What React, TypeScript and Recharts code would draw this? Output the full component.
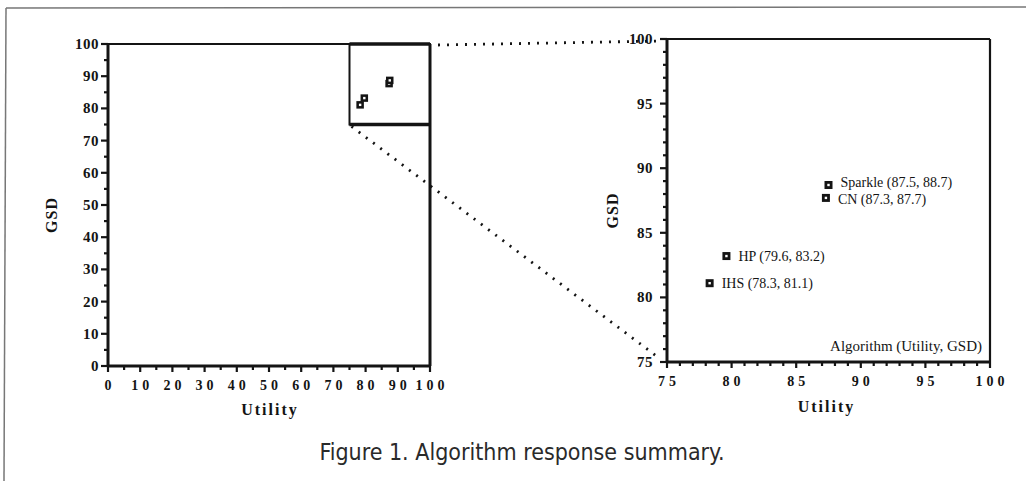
import React from 'react';
import {
  ScatterChart,
  Scatter,
  XAxis,
  YAxis,
  ReferenceLine,
  ReferenceArea,
  LabelList,
} from 'recharts';

// Algorithm results
const algorithms = ['IHS', 'HP', 'CN', 'Sparkle'];
const utility = [78.3, 79.6, 87.3, 87.5];
const gsd = [81.1, 83.2, 87.7, 88.7];

// Axis ticks (every tick gets a mark, the majors get a number)
const fullTicks = [0, 5, 10, 15, 20, 25, 30, 35, 40, 45, 50, 55, 60, 65, 70, 75, 80, 85, 90, 95, 100];
const zoomTicks = [75, 76, 77, 78, 79, 80, 81, 82, 83, 84, 85, 86, 87, 88, 89, 90, 91, 92, 93, 94, 95, 96, 97, 98, 99, 100];
const fullMajorStep = 10;
const zoomMajorStep = 5;
const zoomRange = [75, 100];

const points = algorithms.map((name, i) => ({ name, utility: utility[i], gsd: gsd[i] }));

const INK = '#141414';
const SERIF = '"Liberation Serif", "DejaVu Serif", serif';
const NARROW = '"Liberation Sans Narrow", "DejaVu Sans Condensed", "Liberation Sans", sans-serif';

const makeYTick = (major: number, gap: number) => (props: any) => {
  const { x, y, payload } = props;
  const isMajor = payload.value % major === 0;
  return (
    <g>
      <line x1={x - (isMajor ? 7 : 4)} x2={x} y1={y} y2={y} stroke={INK} strokeWidth={2.2} />
      {isMajor && (
        <text
          x={x - gap}
          y={y}
          textAnchor="end"
          dominantBaseline="central"
          fontFamily={SERIF}
          fontWeight="bold"
          fontSize={15}
          letterSpacing={0.5}
          fill={INK}
        >
          {payload.value}
        </text>
      )}
    </g>
  );
};

const makeXTick = (major: number) => (props: any) => {
  const { x, y, payload } = props;
  const isMajor = payload.value % major === 0;
  return (
    <g>
      <line x1={x} x2={x} y1={y} y2={y + (isMajor ? 6 : 4)} stroke={INK} strokeWidth={2.2} />
      {isMajor && (
        <text
          x={x + 2}
          y={y + 19}
          textAnchor="middle"
          dominantBaseline="central"
          fontFamily={SERIF}
          fontWeight="bold"
          fontSize={14}
          letterSpacing={4}
          fill={INK}
        >
          {payload.value}
        </text>
      )}
    </g>
  );
};

const Marker = (size: number) => (props: any) => {
  const { cx, cy } = props;
  return (
    <g>
      <rect x={cx - size / 2} y={cy - size / 2} width={size} height={size} fill={INK} />
      <rect x={cx - 1.2} y={cy - 1.2} width={2.4} height={2.4} fill="#fff" />
    </g>
  );
};

// the two upper labels sit a hair apart in the original
const labelShift: Record<string, number> = { Sparkle: -2, CN: 2 };

const pointLabel = (props: any) => {
  const { x, y, width, height, index } = props;
  const p = points[index];
  return (
    <text
      x={x + width / 2 + 12}
      y={y + height / 2 + (labelShift[p.name] || 0)}
      dominantBaseline="central"
      fontFamily={SERIF}
      fontSize={14}
      fill={INK}
    >
      {`${p.name} (${p.utility}, ${p.gsd})`}
    </text>
  );
};

// plot boxes on the page, used to hook up the connector dots
const LEFT = { x: 108, y: 44, w: 322, h: 322 };
const RIGHT = { x: 667, y: 39, w: 323, h: 323 };
const lx = (v: number) => LEFT.x + (v / 100) * LEFT.w;
const ly = (v: number) => LEFT.y + LEFT.h - (v / 100) * LEFT.h;

export default function App() {
  return (
    <div
      style={{
        position: 'absolute',
        left: 0,
        top: 0,
        width: 1026,
        height: 481,
        background: '#fff',
        overflow: 'hidden',
      }}
    >
      <div style={{ position: 'absolute', left: 0, top: 0 }}>
        <ScatterChart width={470} height={430} margin={{ top: 44, right: 40, left: 0, bottom: 0 }}>
          <XAxis
            type="number"
            dataKey="utility"
            domain={[0, 100]}
            ticks={fullTicks}
            interval={0}
            height={64}
            tickSize={0}
            tickMargin={0}
            tickLine={false}
            axisLine={{ stroke: INK, strokeWidth: 3 }}
            tick={makeXTick(fullMajorStep)}
          />
          <YAxis
            type="number"
            dataKey="gsd"
            domain={[0, 100]}
            ticks={fullTicks}
            interval={0}
            width={108}
            tickSize={0}
            tickMargin={0}
            tickLine={false}
            axisLine={{ stroke: INK, strokeWidth: 3 }}
            tick={makeYTick(fullMajorStep, 9)}
          />
          <ReferenceLine y={100} stroke={INK} strokeWidth={2.2} />
          <ReferenceLine x={100} stroke={INK} strokeWidth={3} />
          <ReferenceArea
            x1={zoomRange[0]}
            x2={zoomRange[1]}
            y1={zoomRange[0]}
            y2={zoomRange[1]}
            fill="none"
            stroke={INK}
            strokeWidth={2}
            fillOpacity={0}
          />
          <ReferenceLine
            segment={[{ x: zoomRange[0], y: zoomRange[0] }, { x: zoomRange[1], y: zoomRange[0] }]}
            stroke={INK}
            strokeWidth={3.5}
          />
          <ReferenceLine
            segment={[{ x: zoomRange[0], y: zoomRange[1] }, { x: zoomRange[1], y: zoomRange[1] }]}
            stroke={INK}
            strokeWidth={3.5}
          />
          <Scatter data={points} shape={Marker(7.5)} isAnimationActive={false} />
        </ScatterChart>
      </div>

      <div style={{ position: 'absolute', left: 560, top: 0 }}>
        <ScatterChart width={466} height={430} margin={{ top: 39, right: 36, left: 0, bottom: 0 }}>
          <XAxis
            type="number"
            dataKey="utility"
            domain={zoomRange}
            ticks={zoomTicks}
            interval={0}
            height={68}
            tickSize={0}
            tickMargin={0}
            tickLine={false}
            axisLine={{ stroke: INK, strokeWidth: 3 }}
            tick={makeXTick(zoomMajorStep)}
          />
          <YAxis
            type="number"
            dataKey="gsd"
            domain={zoomRange}
            ticks={zoomTicks}
            interval={0}
            width={107}
            tickSize={0}
            tickMargin={0}
            tickLine={false}
            axisLine={{ stroke: INK, strokeWidth: 3 }}
            tick={makeYTick(zoomMajorStep, 14)}
          />
          <ReferenceLine y={100} stroke={INK} strokeWidth={2.2} />
          <ReferenceLine x={100} stroke={INK} strokeWidth={2.2} />
          <Scatter data={points} shape={Marker(8)} isAnimationActive={false}>
            <LabelList dataKey="name" content={pointLabel} />
          </Scatter>
        </ScatterChart>
      </div>

      <svg
        width={1026}
        height={481}
        style={{ position: 'absolute', left: 0, top: 0, pointerEvents: 'none' }}
      >
        {/* page frame */}
        <line x1={6} y1={8} x2={1026} y2={7} stroke="#777" strokeWidth={1.5} />
        <line x1={6} y1={8} x2={4} y2={481} stroke="#777" strokeWidth={1.5} />

        {/* zoom connectors */}
        <line
          x1={lx(100) + 8}
          y1={ly(100) + 1}
          x2={RIGHT.x - 6}
          y2={RIGHT.y + 2}
          stroke={INK}
          strokeWidth={2.8}
          strokeDasharray="2 7"
        />
        <line
          x1={lx(zoomRange[0]) + 2}
          y1={ly(zoomRange[0]) + 2}
          x2={RIGHT.x - 8}
          y2={RIGHT.y + RIGHT.h - 4}
          stroke={INK}
          strokeWidth={2.8}
          strokeDasharray="2 7"
        />

        {/* axis titles */}
        <text
          x={0}
          y={0}
          transform={`translate(57 ${LEFT.y + LEFT.h / 2 + 10}) rotate(-90)`}
          textAnchor="middle"
          fontFamily={SERIF}
          fontWeight="bold"
          fontSize={16}
          letterSpacing={1}
          fill={INK}
        >
          GSD
        </text>
        <text
          x={LEFT.x + LEFT.w / 2 + 1}
          y={415}
          textAnchor="middle"
          fontFamily={SERIF}
          fontWeight="bold"
          fontSize={16}
          letterSpacing={2}
          fill={INK}
        >
          Utility
        </text>
        <text
          x={0}
          y={0}
          transform={`translate(618 ${RIGHT.y + RIGHT.h / 2 + 10}) rotate(-90)`}
          textAnchor="middle"
          fontFamily={SERIF}
          fontWeight="bold"
          fontSize={16}
          letterSpacing={1}
          fill={INK}
        >
          GSD
        </text>
        <text
          x={RIGHT.x + RIGHT.w / 2 - 2}
          y={412}
          textAnchor="middle"
          fontFamily={SERIF}
          fontWeight="bold"
          fontSize={16}
          letterSpacing={2}
          fill={INK}
        >
          Utility
        </text>
        <text
          x={RIGHT.x + RIGHT.w - 8}
          y={RIGHT.y + RIGHT.h - 16}
          textAnchor="end"
          dominantBaseline="central"
          fontFamily={SERIF}
          fontSize={15}
          fill={INK}
        >
          Algorithm (Utility, GSD)
        </text>

        {/* caption */}
        <text
          x={522}
          y={452}
          textAnchor="middle"
          dominantBaseline="central"
          fontFamily={NARROW}
          fontSize={23}
          fill="#2a2a2a"
        >
          Figure 1. Algorithm response summary.
        </text>
      </svg>
    </div>
  );
}
